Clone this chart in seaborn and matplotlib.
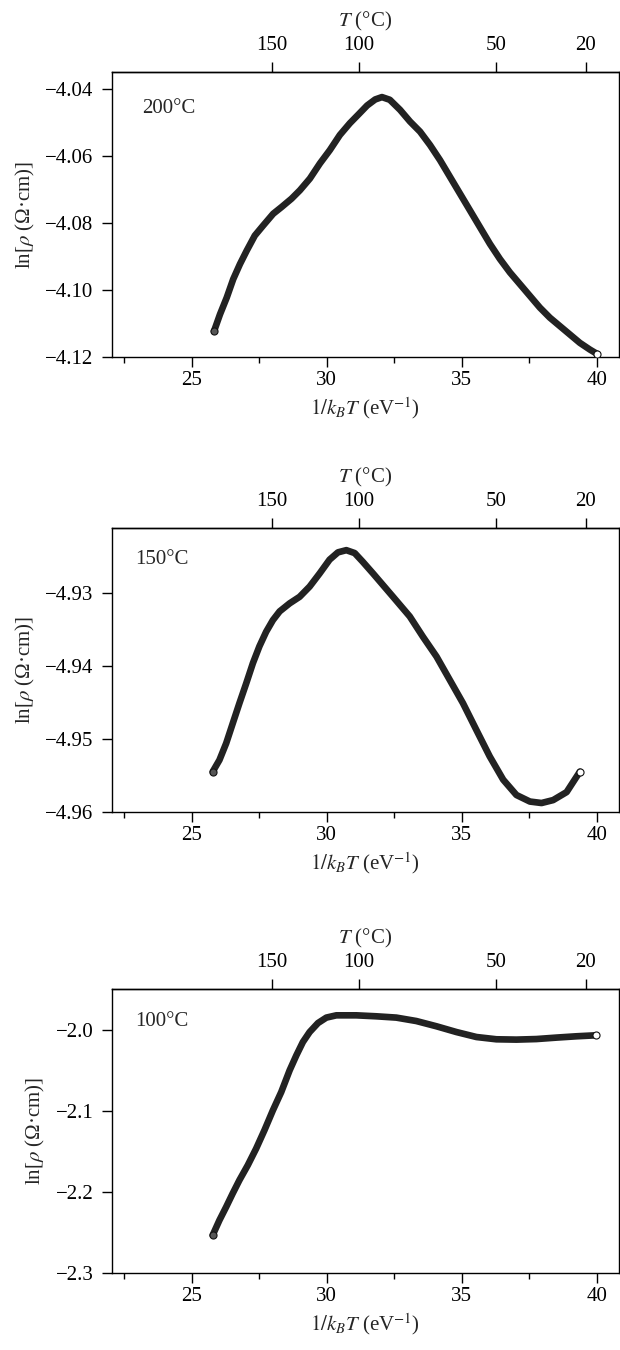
import matplotlib
matplotlib.use("Agg")
import matplotlib.pyplot as plt
import seaborn as sns
from matplotlib.ticker import MultipleLocator


# 1/k_BT (eV^-1) and ln(rho)
INV_KT_200 = [25.83, 26.05, 26.30, 26.54, 26.79, 27.04, 27.34, 27.65, 28.02, 28.33,
              28.70, 29.01, 29.38, 29.75, 30.12, 30.49, 30.86, 31.20, 31.50, 31.80,
              32.05, 32.34, 32.72, 33.09, 33.46, 33.83, 34.20, 34.57, 34.94, 35.31,
              35.68, 36.05, 36.42, 36.79, 37.16, 37.53, 37.90, 38.27, 38.64, 39.01,
              39.38, 39.75, 40.02]
LN_RHO_200 = [-4.1123, -4.1073, -4.1023, -4.0968, -4.0923, -4.0883, -4.0838, -4.0808,
              -4.0773, -4.0753, -4.0728, -4.0703, -4.0668, -4.0623, -4.0583, -4.0538,
              -4.0503, -4.0475, -4.0450, -4.0432, -4.0425, -4.0433, -4.0463, -4.0498,
              -4.0528, -4.0568, -4.0613, -4.0663, -4.0713, -4.0763, -4.0813, -4.0863,
              -4.0908, -4.0948, -4.0983, -4.1018, -4.1053, -4.1083, -4.1108, -4.1133,
              -4.1158, -4.1178, -4.1191]

INV_KT_150 = [25.78, 26.03, 26.28, 26.52, 26.77, 27.02, 27.27, 27.51, 27.76, 28.01,
              28.26, 28.63, 29.00, 29.37, 29.74, 30.11, 30.42, 30.73, 31.04, 31.34,
              31.72, 32.09, 32.46, 33.08, 33.57, 34.07, 34.56, 35.05, 35.55, 36.04,
              36.54, 37.03, 37.53, 37.96, 38.39, 38.89, 39.38]
LN_RHO_150 = [-4.9545, -4.9529, -4.9506, -4.9479, -4.9451, -4.9424, -4.9396, -4.9373,
              -4.9353, -4.9337, -4.9325, -4.9314, -4.9305, -4.9291, -4.9273, -4.9254,
              -4.9244, -4.9241, -4.9245, -4.9257, -4.9273, -4.9289, -4.9305, -4.9332,
              -4.9360, -4.9387, -4.9419, -4.9451, -4.9488, -4.9524, -4.9556, -4.9577,
              -4.9586, -4.9588, -4.9584, -4.9573, -4.9545]

INV_KT_100 = [25.78, 26.03, 26.28, 26.52, 26.77, 27.08, 27.39, 27.70, 28.01, 28.32,
              28.63, 28.88, 29.12, 29.37, 29.68, 29.99, 30.36, 31.10, 31.84, 32.58,
              33.32, 34.07, 34.81, 35.55, 36.29, 37.03, 37.77, 38.52, 39.26, 39.97]
LN_RHO_100 = [-2.2530, -2.2346, -2.2182, -2.2017, -2.1853, -2.1669, -2.1464, -2.1236,
              -2.0993, -2.0768, -2.0501, -2.0316, -2.0153, -2.0030, -1.9919, -1.9852,
              -1.9824, -1.9824, -1.9836, -1.9852, -1.9894, -1.9959, -2.0030, -2.0091,
              -2.0119, -2.0123, -2.0116, -2.0098, -2.0082, -2.0070]

PANEL_LABELS = ["200°C", "150°C", "100°C"]
Y_TICKS = [
    [-4.12, -4.10, -4.08, -4.06, -4.04],
    [-4.96, -4.95, -4.94, -4.93],
    [-2.3, -2.2, -2.1, -2.0],
]
Y_FORMATS = ["{:.2f}", "{:.2f}", "{:.1f}"]
Y_LIMITS = [(-4.12, -4.035), (-4.96, -4.921), (-2.3, -1.95)]

X_TICKS = [25, 30, 35, 40]
TOP_TICK_LABELS = ["150", "100", "50", "20"]
TOP_TICK_POS = [27.96, 31.19, 36.26, 39.59]

sns.set_style("ticks")
plt.rcParams["font.family"] = ["Liberation Serif", "DejaVu Serif"]
plt.rcParams["mathtext.fontset"] = "stix"
plt.rcParams["axes.linewidth"] = 1.0
plt.rcParams["axes.edgecolor"] = "black"
plt.rcParams["xtick.color"] = "black"
plt.rcParams["ytick.color"] = "black"

FS = 15
fig = plt.figure(figsize=(6.2, 13.5), dpi=100)

series = [(INV_KT_200, LN_RHO_200), (INV_KT_150, LN_RHO_150), (INV_KT_100, LN_RHO_100)]
boxes = [
    [0.1802, 0.7356, 0.8182, 0.2111],
    [0.1802, 0.3987, 0.8182, 0.2105],
    [0.1802, 0.0568, 0.8182, 0.2106],
]
label_pos = [(0.059, 0.873), (0.046, 0.886), (0.046, 0.885)]

for i, (xs, ys) in enumerate(series):
    ax = fig.add_axes(boxes[i])
    sns.lineplot(x=xs, y=ys, sort=False, ax=ax, color="#222222", lw=4.8,
                 solid_capstyle="round", solid_joinstyle="round", zorder=2)
    # open circles at both ends of the run
    sns.scatterplot(x=xs[:1], y=ys[:1], ax=ax, marker="o", s=26, facecolor="#555555",
                    edgecolor="#111111", linewidth=0.8, zorder=4)
    sns.scatterplot(x=xs[-1:], y=ys[-1:], ax=ax, marker="o", s=26, facecolor="white",
                    edgecolor="#111111", linewidth=0.8, zorder=4)

    ax.set_xlim(22.04, 40.83)
    ax.set_ylim(*Y_LIMITS[i])
    ax.set_xticks(X_TICKS)
    ax.set_xticklabels([str(t) for t in X_TICKS], fontsize=FS)
    ax.xaxis.set_minor_locator(MultipleLocator(2.5))
    ax.set_yticks(Y_TICKS[i])
    ax.set_yticklabels([Y_FORMATS[i].format(t).replace("-", "\u2212") for t in Y_TICKS[i]],
                       fontsize=FS)
    ax.tick_params(axis="x", which="major", direction="out", length=7, width=1.0, pad=3)
    ax.tick_params(axis="x", which="minor", direction="out", length=4.2, width=1.0)
    ax.tick_params(axis="y", which="major", direction="out", length=7, width=1.0, pad=6)
    ax.set_xlabel(r"$1/k_BT$ (eV$^{-1}$)", fontsize=FS, labelpad=4)
    ax.set_ylabel(r"ln[$\rho$ (Ω·cm)]", fontsize=FS, labelpad=6)
    for side in ["top", "right", "left", "bottom"]:
        ax.spines[side].set_visible(True)

    top = ax.secondary_xaxis("top")
    top.set_xticks(TOP_TICK_POS)
    top.set_xticklabels(TOP_TICK_LABELS, fontsize=FS)
    top.tick_params(axis="x", direction="out", length=7, width=1.0, pad=5)
    top.set_xlabel(r"$T$ (°C)", fontsize=FS, labelpad=7)

    ax.text(label_pos[i][0], label_pos[i][1], PANEL_LABELS[i], transform=ax.transAxes,
            fontsize=FS, ha="left", va="center")

fig.savefig("out.png", dpi=100)
